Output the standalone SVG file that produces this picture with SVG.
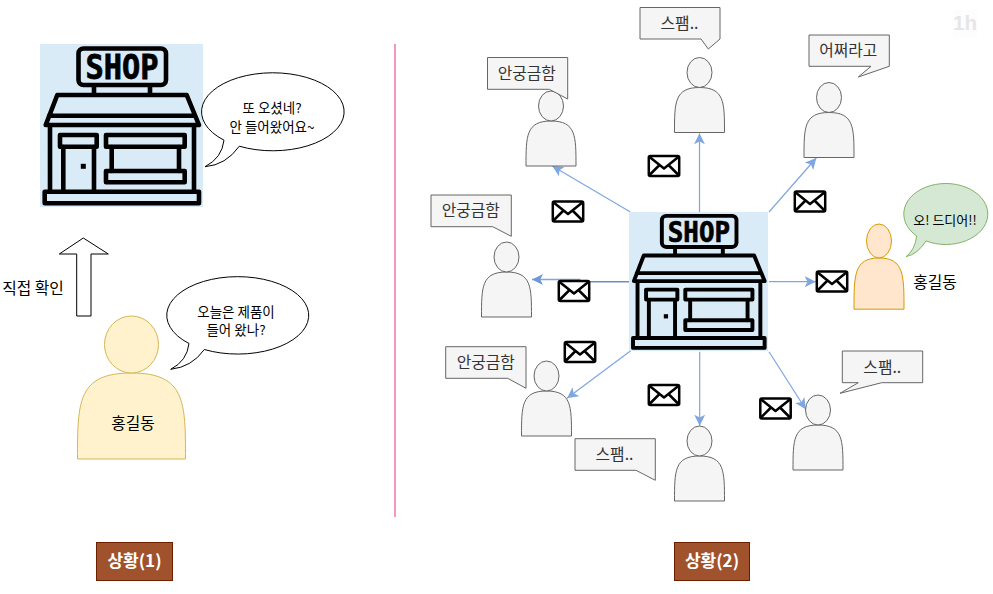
<svg xmlns="http://www.w3.org/2000/svg" width="993" height="594" viewBox="0 0 993 594">
<style>
text{font-family:"Malgun Gothic","Noto Sans CJK KR","Noto Sans",sans-serif;text-anchor:middle;fill:#000}
.conn{fill:none;stroke:#7ea6e0;stroke-width:1.2}
.gr path,.gr ellipse{fill:#f5f5f5;stroke:#666;stroke-width:1}
.cal{fill:#f5f5f5;stroke:#666;stroke-width:1}
.ct{font-size:15.8px;fill:#333}
.st{font-size:13.5px}
.lab{font-size:17px;font-weight:700;fill:#fff}
.i{fill:none;stroke:#000;stroke-width:4.6;stroke-linejoin:round;stroke-linecap:round}
.env{fill:#fff;stroke:#000;stroke-width:2.5;stroke-linejoin:round}
.bub{fill:#fff;stroke:#000;stroke-width:1}
</style>
<defs>
<marker id="ah" markerUnits="userSpaceOnUse" markerWidth="11" markerHeight="11" viewBox="0 0 10 10" refX="10" refY="5" orient="auto"><path d="M10,5L0,0L2.5,5L0,10z" fill="#7ea6e0"/></marker>
<marker id="ah2" markerUnits="userSpaceOnUse" markerWidth="11" markerHeight="11" viewBox="0 0 10 10" refX="10" refY="5" orient="auto"><path d="M10,5L0,0L2.5,5L0,10z" fill="#6f96d6"/></marker>
<g id="shopIcon">
<rect width="163" height="163" fill="#daebf8"/>
<rect class="i" x="38.5" y="4.5" width="87.5" height="36.5" rx="5"/>
<text x="82" y="35" font-size="34" font-weight="700" textLength="73" lengthAdjust="spacingAndGlyphs" style="font-family:'DejaVu Sans Mono',monospace;stroke:#000;stroke-width:.8">SHOP</text>
<path class="i" d="M54,43V49M110,43V49M17.3,51H146.7L159,81H5.7ZM9,71.7H155M10,81V147M154,81V147M23.3,103V147M54,103V147M71.7,103V127M139,103V127"/>
<rect class="i" x="20" y="91" width="36.7" height="11.7"/>
<rect class="i" x="66" y="91" width="78.7" height="11.7"/>
<rect class="i" x="66" y="127" width="78.7" height="11.3"/>
<rect class="i" x="4.7" y="147.7" width="154.3" height="11.6"/>
<rect x="40.8" y="119.8" width="5" height="5"/>
</g>
<g id="mail"><rect class="env" x="-15.2" y="-10" width="30.4" height="20" rx="1.5"/><path class="env" style="fill:none" d="M-15,-9.5L0,2.5L15,-9.5M-15,9.5L-4.5,-1M15,9.5L4.5,-1"/></g>
<g id="actor" class="gr"><path d="M0,75C0,45 0,30 25,30C50,30 50,45 50,75Z"/><ellipse cx="25" cy="15" rx="12.5" ry="15"/></g>
</defs>
<rect width="993" height="594" fill="#fff"/>

<g id="watermark"><rect x="953" y="10" width="24" height="27" fill="#fdfdfd"/><text x="965" y="30" style="font-family:'Liberation Sans',sans-serif;font-size:20.5px;font-weight:700;fill:#e6e6e6">1h</text></g>

<g id="connectors">
<path class="conn" marker-end="url(#ah)" d="M699.5,212V133.3"/>
<path class="conn" marker-end="url(#ah)" d="M630,211.7L552.3,166"/>
<path class="conn" marker-end="url(#ah)" d="M769,212L816.3,158"/>
<path class="conn" marker-end="url(#ah)" d="M769,281.7H815.7"/>
<path d="M630,281.7H580V279.5" fill="none" stroke="#6c8ebf" stroke-width="1.6"/>
<path d="M580,279.5H532" fill="none" stroke="#7ea6e0" stroke-width="1.4" marker-end="url(#ah2)"/>
<path class="conn" marker-end="url(#ah)" d="M630.7,350.7L567,398.3"/>
<path class="conn" marker-end="url(#ah)" d="M699.7,351.7V425.7"/>
<path class="conn" marker-end="url(#ah)" d="M769,351.7L805.7,409.3"/>
</g>

<g id="divider"><path d="M395,44V517" stroke="#ee7fb0" stroke-width="1.6" fill="none"/></g>

<g id="shop1"><use href="#shopIcon" transform="translate(40,44)"/></g>
<g id="shop2"><use href="#shopIcon" transform="translate(629,212) scale(.853)"/></g>

<g id="bubble-shop"><path class="bub" d="M224,140.2A71.3,39 0 1 1 239.3,146.2Q226,165 205,166.7Q222,158 224,140.2Z"/><text class="st" x="272" y="113">또 오셨네?</text><text class="st" x="272" y="132">안 들어왔어요~</text></g>

<g id="bigArrow"><path d="M83.3,238L108.3,254H91V316H76.7V254H59.3Z" fill="#fff" stroke="#000" stroke-width="1"/><text x="33" y="294" font-size="15.8">직접 확인</text></g>

<g id="person-hong1"><path d="M77.5,459C77.5,402 77.5,373 131.5,373C185.5,373 185.5,402 185.5,459Z" fill="#fff2cc" stroke="#d6b656"/><ellipse cx="131.5" cy="344.5" rx="27" ry="28.5" fill="#fff2cc" stroke="#d6b656"/><text x="133" y="428.5" font-size="15.8">홍길동</text></g>
<g id="bubble-hong1"><path class="bub" d="M189,343.5A71,38.7 0 1 1 204.3,349.5Q192,367 170.7,369.3Q187,361 189,343.5Z"/><text class="st" x="236" y="317">오늘은 제품이</text><text class="st" x="236" y="335">들어 왔나?</text></g>

<g id="p1"><use href="#actor" x="674.5" y="57.5"/><path class="cal" d="M640,7.5H720V39L708.3,49L701,39H640Z"/><text class="ct" x="679.5" y="29">스팸..</text></g>
<g id="p2"><use href="#actor" x="526" y="91"/><path class="cal" d="M487.5,57.5H567.7V99L549.3,89.3H487.5Z"/><text class="ct" x="526.7" y="78.5">안궁금함</text></g>
<g id="p3"><use href="#actor" x="804" y="82.5"/><path class="cal" d="M809,35H889.3V66.3L858.3,77L871,66.3H809Z"/><text class="ct" x="848.3" y="56">어쩌라고</text></g>
<g id="p4"><use href="#actor" x="481.5" y="242"/><path class="cal" d="M431,195H511.3V236.3L492.7,226.7H431Z"/><text class="ct" x="470.7" y="216">안궁금함</text></g>
<g id="p5"><use href="#actor" x="521.5" y="361"/><path class="cal" d="M445.7,346.7H526V388.3L507.7,378.3H445.7Z"/><text class="ct" x="485.7" y="368">안궁금함</text></g>
<g id="p6"><use href="#actor" x="674.5" y="426"/><path class="cal" d="M575,438.7H655.3V480.3L636,470.3H575Z"/><text class="ct" x="614.5" y="460">스팸..</text></g>
<g id="p7"><use href="#actor" x="793" y="395"/><path class="cal" d="M842.3,351H922.7V382.7H881.7L840,393.3L858.3,382.7H842.3Z"/><text class="ct" x="882.3" y="372.5">스팸..</text></g>

<g id="person-hong2"><path d="M854,309.2C854,275 854,258 879,258C904,258 904,275 904,309.2Z" fill="#ffe6cc" stroke="#d79b00"/><ellipse cx="879" cy="241" rx="12.5" ry="17" fill="#ffe6cc" stroke="#d79b00"/><text x="935" y="288" font-size="15.8">홍길동</text></g>
<g id="bubble-hong2"><path d="M916.7,236A42,30.5 0 1 1 926,240.9Q918,254 906,256.7Q915,250 916.7,236Z" fill="#d5e8d4" stroke="#82b366"/><text x="945" y="224.5" font-size="13">오! 드디어!!</text></g>

<g id="mails">
<use href="#mail" x="664" y="166"/><use href="#mail" x="568" y="211.5"/><use href="#mail" x="810" y="201.5"/><use href="#mail" x="832" y="281.5"/><use href="#mail" x="574" y="291"/><use href="#mail" x="580" y="352"/><use href="#mail" x="664" y="395"/><use href="#mail" x="775.5" y="408.5"/>
</g>

<g id="label1"><rect x="96.5" y="542.5" width="76" height="38" fill="#a0522d" stroke="#6d1f00"/><text class="lab" x="134.5" y="566.5">상황(1)</text></g>
<g id="label2"><rect x="674.5" y="542.5" width="75" height="38" fill="#a0522d" stroke="#6d1f00"/><text class="lab" x="712" y="566.5">상황(2)</text></g>
</svg>
